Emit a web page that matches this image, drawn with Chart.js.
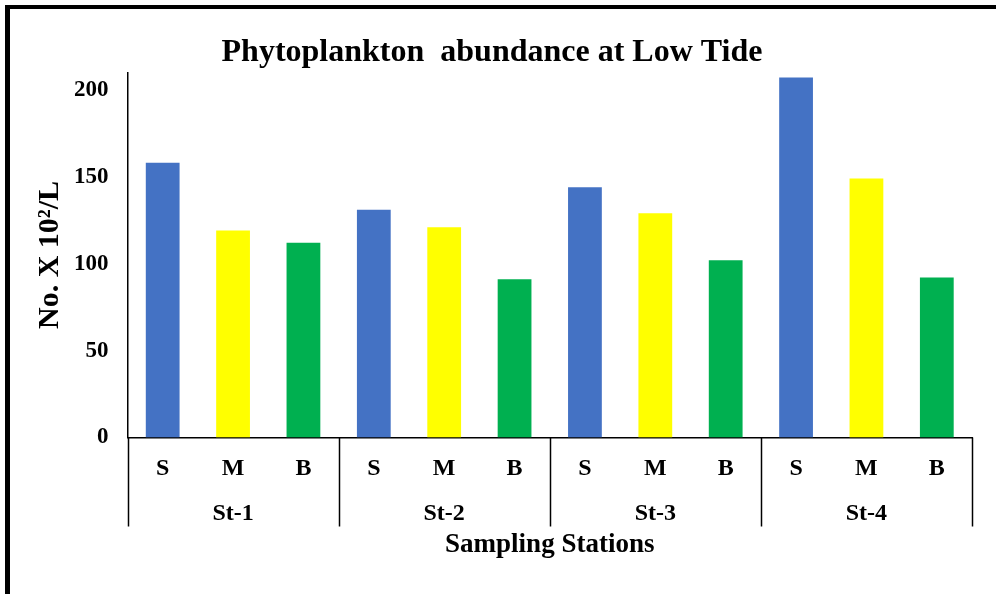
<!DOCTYPE html>
<html>
<head>
<meta charset="utf-8">
<script src="https://cdn.jsdelivr.net/npm/chart.js@4"></script>
<style>
  html, body { margin: 0; padding: 0; background: #fff; }
  canvas { display: block; }
</style>
</head>
<body>
<canvas id="tideChart" width="996" height="594"></canvas>
<script>
// values (No. x 10^2 / L)
const stations = ['St-1', 'St-2', 'St-3', 'St-4'];
const depths = ['S', 'M', 'B'];
const surface = [158, 131, 144, 207];
const middle = [119, 121, 129, 149];
const bottom = [112, 91, 102, 92];
const depthColors = ['#4472C4', '#FFFF00', '#00B050'];
const yTicks = [0, 50, 100, 150, 200];

const serif = "'Liberation Serif', 'Times New Roman', serif";

// flatten station x depth into one row of bars
const labels = [];
const values = [];
const colors = [];
stations.forEach((st, i) => {
    const byDepth = [surface[i], middle[i], bottom[i]];
    depths.forEach((d, j) => {
        labels.push(d);
        values.push(byDepth[j]);
        colors.push(depthColors[j]);
    });
});

// white page, frame lines and the station separators under the axis
const framePlugin = {
    id: 'frame',
    beforeDraw(chart) {
        const ctx = chart.ctx;
        ctx.save();
        ctx.fillStyle = '#fff';
        ctx.fillRect(0, 0, chart.width, chart.height);
        ctx.restore();
    },
    afterDraw(chart) {
        const ctx = chart.ctx;
        const x2 = chart.scales.x2;
        const top = chart.chartArea.bottom;
        ctx.save();
        ctx.fillStyle = '#000';
        ctx.fillRect(5, 5, chart.width - 5, 4);
        ctx.fillRect(5, 5, 5, chart.height - 5);
        ctx.strokeStyle = '#000';
        ctx.lineWidth = 1.5;
        for (let i = 0; i <= stations.length; i++) {
            const px = Math.round(x2.getPixelForValue(i - 0.5)) + 0.5;
            ctx.beginPath();
            ctx.moveTo(px, top);
            ctx.lineTo(px, top + 89);
            ctx.stroke();
        }
        ctx.restore();
    }
};

const ctx = document.getElementById('tideChart').getContext('2d');
new Chart(ctx, {
    type: 'bar',
    data: {
        labels: labels,
        datasets: [{
            data: values,
            backgroundColor: colors,
            borderWidth: 0,
            barPercentage: 0.48,
            categoryPercentage: 1
        }]
    },
    options: {
        responsive: false,
        animation: false,
        layout: { padding: { left: 12, right: 24, top: 0, bottom: 33 } },
        plugins: {
            legend: { display: false },
            tooltip: { enabled: false },
            title: {
                display: true,
                text: 'Phytoplankton  abundance at Low Tide',
                color: '#000',
                font: { family: serif, size: 32, weight: 'bold' },
                padding: { top: 34, bottom: 0 }
            }
        },
        scales: {
            y: {
                min: 0,
                max: 210,
                afterFit: (scale) => { scale.width = 115.5; },
                afterBuildTicks: (scale) => { scale.ticks = yTicks.map(v => ({ value: v })); },
                grid: { display: false, drawTicks: false },
                border: { display: true, color: '#000', width: 1.5 },
                ticks: {
                    color: '#000',
                    padding: 19,
                    font: { family: serif, size: 23, weight: 'bold' }
                },
                title: {
                    display: true,
                    text: 'No. X 10²/L',
                    color: '#000',
                    font: { family: serif, size: 30, weight: 'bold' },
                    padding: { top: 20, bottom: 0 }
                }
            },
            x: {
                afterFit: (scale) => { scale.height = 47; },
                grid: { display: false, drawTicks: false },
                border: { display: true, color: '#000', width: 1.5 },
                ticks: {
                    color: '#000',
                    padding: 17,
                    maxRotation: 0,
                    autoSkip: false,
                    font: { family: serif, size: 24, weight: 'bold' }
                }
            },
            x2: {
                type: 'category',
                position: 'bottom',
                labels: stations,
                offset: true,
                afterFit: (scale) => { scale.height = 76.5; },
                grid: { display: false, drawTicks: false },
                border: { display: false },
                ticks: {
                    color: '#000',
                    padding: 15,
                    maxRotation: 0,
                    font: { family: serif, size: 24, weight: 'bold' }
                },
                title: {
                    display: true,
                    text: 'Sampling Stations',
                    color: '#000',
                    font: { family: serif, size: 27, weight: 'bold' },
                    padding: { top: 0, bottom: 0 }
                }
            }
        }
    },
    plugins: [framePlugin]
});
</script>
</body>
</html>
